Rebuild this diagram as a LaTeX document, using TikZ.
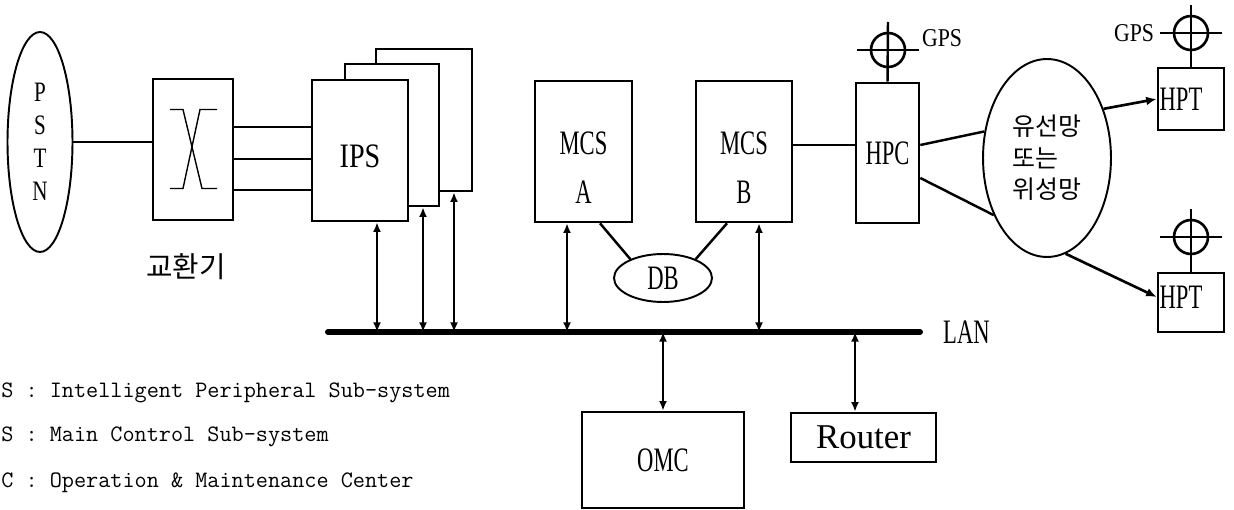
\documentclass[tikz,border=0pt]{standalone}
\usepackage{fontspec}
\setmainfont{Liberation Serif}
\newfontfamily\kofont{Noto Sans CJK KR}
\usepackage{graphicx}
\usetikzlibrary{arrows.meta,positioning,shapes.geometric,calc}
\newcommand{\nar}[1]{\scalebox{0.66}[1]{#1}}

\begin{document}
\begin{tikzpicture}[x=0.02cm, y=-0.02cm,
  box/.style={draw, line width=1.5pt, fill=white, inner sep=0pt},
  ring/.style={draw, ellipse, line width=1.1pt, fill=white, inner sep=0pt},
  ant/.style={draw, circle, line width=1.5pt, minimum size=0.68cm, inner sep=0pt},
  boxtxt/.style={font=\fontsize{19.5}{27.8}\selectfont, align=center},
  wire/.style={line width=1.4pt},
  link/.style={{Latex[length=5.5pt,width=4.6pt]}-{Latex[length=5.5pt,width=4.6pt]}, line width=1.1pt},
  feed/.style={-{Latex[length=6pt,width=5pt]}, line width=1.5pt},
  note/.style={font=\ttfamily\fontsize{13.4}{15}\selectfont, anchor=west, inner sep=0pt}]
\useasboundingbox (0,0) rectangle (1234,510);

% PSTN and exchange
\node[ring, minimum width=1.3cm, minimum height=4.4cm, align=center, font=\fontsize{16}{18.7}\selectfont] (pstn) at (40,142) {\scalebox{0.75}[1]{P}\\\scalebox{0.75}[1]{S}\\\scalebox{0.75}[1]{T}\\\scalebox{0.75}[1]{N}};
\node[box, minimum width=1.6cm, minimum height=2.82cm] (sw) at (193,149.5) {};
\draw[line width=0.8pt] (sw.center) ++(-23,-40) -- ++(13,0) -- ++(19,79) -- ++(15,0);
\draw[line width=0.8pt] (sw.center) ++(24,-40) -- ++(-17,0) -- ++(-17,79) -- ++(-13,0);
\node[font=\kofont\fontsize{16.4}{18}\selectfont] (swname) at (186,267) {교환기};

% IP sub-systems
\node[box, minimum width=1.92cm, minimum height=2.84cm] (ips3) at (424,120) {};
\node[box, minimum width=1.88cm, minimum height=2.84cm] (ips2) at (392,135) {};
\node[box, minimum width=1.92cm, minimum height=2.82cm, label={[boxtxt, yshift=-0.12cm]center:\scalebox{0.82}[1]{IPS}}] (ips1) at (360,150.5) {};

% main control
\node[box, minimum width=1.94cm, minimum height=2.82cm, label={[boxtxt, yshift=-0.32cm]center:\nar{MCS}\\\nar{A}}] (mcsa) at (583.5,151.5) {};
\node[box, minimum width=1.92cm, minimum height=2.82cm, label={[boxtxt, yshift=-0.32cm]center:\nar{MCS}\\\nar{B}}] (mcsb) at (744,151.5) {};
\node[ring, minimum width=1.96cm, minimum height=0.96cm, boxtxt] (db) at (663,278) {\nar{DB}};
\node[box, minimum width=1.26cm, minimum height=2.8cm, boxtxt] (hpc) at (887.5,153) {\nar{HPC}};

% network and terminals
\node[ring, minimum width=2.56cm, minimum height=3.96cm, align=left, font=\kofont\fontsize{14.2}{17.9}\selectfont] (net) at (1047,158) {유선망\\또는\\위성망};
\node[box, minimum width=1.32cm, minimum height=1.24cm, label={[boxtxt, xshift=-0.2cm]center:\nar{HPT}}] (hpt1) at (1191,99) {};
\node[box, minimum width=1.32cm, minimum height=1.18cm, label={[boxtxt, xshift=-0.2cm, yshift=0.1cm]center:\nar{HPT}}] (hpt2) at (1191,302.5) {};
\node[ant] (gpsa) at (888,50) {};
\node[ant] (gpsb) at (1191,33) {};
\node[ant] (gpsc) at (1191,237) {};
\node[font=\fontsize{14.6}{16}\selectfont] (gpsatxt) at (942,38) {\scalebox{0.85}[1]{GPS}};
\node[font=\fontsize{14.6}{16}\selectfont] (gpsbtxt) at (1134,33) {\scalebox{0.85}[1]{GPS}};

% LAN side
\coordinate (lanL) at (328,332);
\coordinate (lanR) at (920,332);
\node[boxtxt, right=0.34cm of lanR] (lan) {\nar{LAN}};
\node[box, minimum width=3.24cm, minimum height=1.92cm, boxtxt] (omc) at (663,460) {\nar{OMC}};
\node[box, minimum width=2.9cm, minimum height=0.98cm, font=\fontsize{19.8}{22}\selectfont] (router) at (863.5,437.5) {Router};

% connections
\draw[wire] (pstn.east) -- (pstn.east -| sw.west);
\foreach \y in {127,159,190}
  \draw[wire] (sw.east |- 0,\y) -- (ips1.west |- 0,\y);
\draw[wire] (mcsa.south -| 600,0) -- (db.150);
\draw[wire] (mcsb.south -| 727,0) -- (db.30);
\draw[wire] (mcsb.east |- 0,145) -- (hpc.west |- 0,145);
\draw[wire] (hpc.east |- 0,145) -- (net.157);
\draw[wire] (hpc.east |- 0,178) -- (net.227);
\draw[feed] (net.41) -- (hpt1.west);
\draw[feed] (net.281) -- (hpt2.west |- 0,297);
\foreach \a/\b in {gpsa/hpc, gpsb/hpt1, gpsc/hpt2}{
  \draw[wire] (\a.center) ++(-31,0) -- ++(62,0);
  \draw[wire] (\a.center) ++(0,-28) -- (\b.north);
}
\draw[line width=3.4pt, line cap=round] (lanL) -- (lanR);
\foreach \nd/\x in {ips1/377, ips2/423, ips3/454, mcsa/567, mcsb/759}
  \draw[link] (\nd.south -| \x,0) -- (lanL -| \x,0);
\foreach \nd/\x in {omc/663, router/855}
  \draw[link] (lanL -| \x,0) -- (\nd.north -| \x,0);

% legend
\node[note] (n1) at (1,393) {S : Intelligent Peripheral Sub-system};
\node[note] (n2) at (1,437) {S : Main Control Sub-system};
\node[note] (n3) at (1,483) {C : Operation \& Maintenance Center};
\end{tikzpicture}
\end{document}
